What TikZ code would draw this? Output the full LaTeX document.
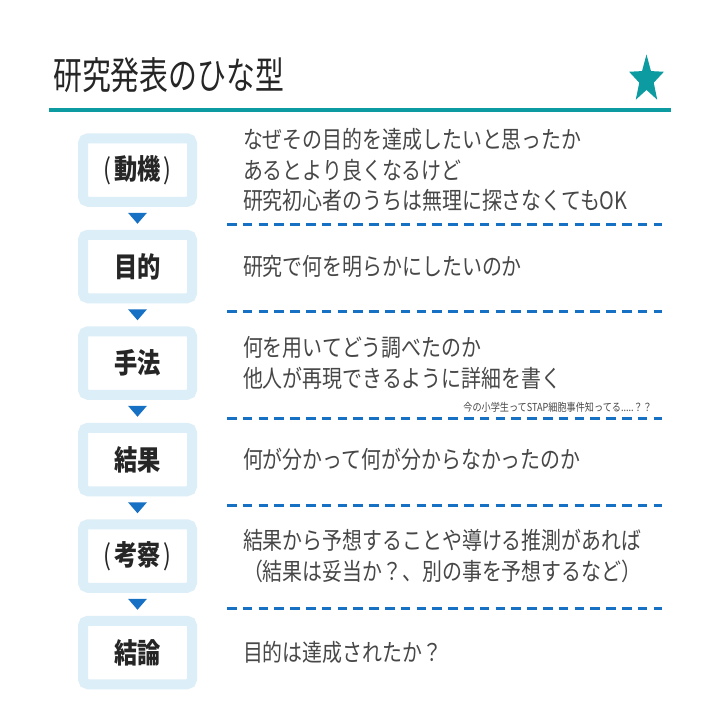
\documentclass[tikz,border=0pt]{standalone}
\usepackage{fontspec}
\setmainfont{Noto Sans CJK JP}[FakeStretch=0.83]
\newfontfamily\titlefont{Noto Sans CJK JP}[FakeStretch=0.76]
\usetikzlibrary{shapes.geometric,positioning}

\definecolor{headteal}{RGB}{12,155,160}
\definecolor{stageblue}{RGB}{220,238,248}
\definecolor{markblue}{RGB}{22,112,196}

\begin{document}
\begin{tikzpicture}[
        x=1pt, y=-1pt,
        font=\fontsize{24}{30.5}\selectfont,
        node distance=6pt,
        stage/.style={
            rectangle,
            draw=stageblue,
            fill=white,
            line width=10pt,
            rounded corners=5pt,
            minimum width=109pt,
            minimum height=63.5pt,
            inner sep=0pt,
            text=black!85,
            font=\fontsize{28}{30}\selectfont\bfseries
        },
        marker/.style={
            isosceles triangle,
            isosceles triangle stretches,
            shape border rotate=270,
            minimum width=19pt,
            minimum height=11pt,
            inner sep=0pt,
            outer sep=0pt,
            fill=markblue
        },
        note/.style={
            inner sep=0pt,
            outer sep=0pt,
            align=left,
            text=black!72
        },
        separator/.style={
            draw=markblue,
            line width=3pt,
            dash pattern=on 9.5pt off 6.3pt
        }
    ]
    \useasboundingbox[fill=white] (0,0) rectangle (720,720);

    % Heading
    \node[anchor=west, inner sep=0pt, text=black!85,
        font=\titlefont\fontsize{38}{40}\selectfont] (title) at (53,75) {研究発表のひな型};
    \node[star, star points=5, star point ratio=2.4, minimum size=50pt,
        inner sep=0pt, fill=headteal, xscale=0.73, transform shape] (badge) at (646.5,79.5) {};
    \draw[headteal, line width=3.3pt] (49,110) -- (671,110);

    % Stages
    \node[stage] (motive) at (137.5,170) {{\mdseries(}\kern3pt動機\kern3pt{\mdseries)}};
    \node[marker, below=of motive] (m1) {};
    \node[stage, below=of m1] (purpose) {目的};
    \node[marker, below=of purpose] (m2) {};
    \node[stage, below=of m2] (method) {手法};
    \node[marker, below=of method] (m3) {};
    \node[stage, below=of m3] (result) {結果};
    \node[marker, below=of result] (m4) {};
    \node[stage, below=of m4] (discussion) {{\mdseries(}\kern3pt考察\kern3pt{\mdseries)}};
    \node[marker, below=of discussion] (m5) {};
    \node[stage, below=of m5] (conclusion) {結論};

    % Explanations
    \node[note, right=46pt of motive] (motive_text) {なぜその目的を達成したいと思ったか\\あるとより良くなるけど\\研究初心者のうちは無理に探さなくてもOK};
    \node[note, right=46pt of purpose] (purpose_text) {研究で何を明らかにしたいのか};
    \node[note, right=46pt of method] (method_text) {何を用いてどう調べたのか\\他人が再現できるように詳細を書く};
    \node[note, anchor=east, font=\fontsize{11}{12}\selectfont] (stap) at (652,407) {今の小学生ってSTAP細胞事件知ってる.....？？};
    \node[note, right=46pt of result] (result_text) {何が分かって何が分からなかったのか};
    \node[note, right=46pt of discussion] (discussion_text) {結果から予想することや導ける推測があれば\\（結果は妥当か？、別の事を予想するなど）};
    \node[note, right=46pt of conclusion] (conclusion_text) {目的は達成されたか？};

    % Separators
    \draw[separator] (227,224) -- (662,224);
    \draw[separator] (227,311) -- (662,311);
    \draw[separator] (227,418) -- (662,418);
    \draw[separator] (227,505) -- (662,505);
    \draw[separator] (227,608) -- (662,608);
\end{tikzpicture}
\end{document}
